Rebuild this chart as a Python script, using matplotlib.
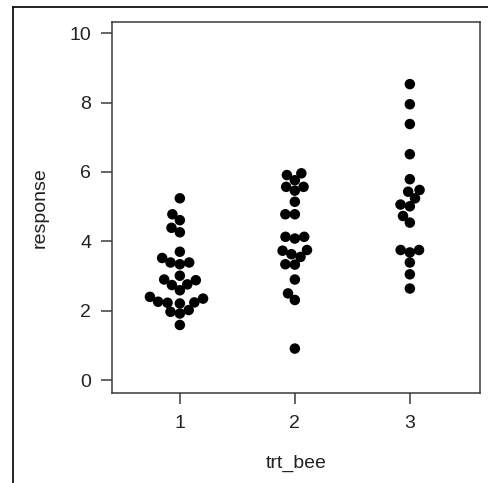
import numpy as np
import matplotlib
matplotlib.use("Agg")
import matplotlib.pyplot as plt
from matplotlib.lines import Line2D

# data
groups = [1, 2, 3]
resp_1 = [5.24, 4.78, 4.61, 4.39, 4.26, 3.70, 3.39, 3.34, 3.39, 3.52, 2.88, 2.90, 3.01,
          2.74, 2.76, 2.59, 2.35, 2.40, 2.24, 2.23, 2.21, 2.26, 2.02, 1.97, 1.92, 1.59]
resp_2 = [5.96, 5.91, 5.76, 5.57, 5.57, 5.46, 5.14, 4.78, 4.78, 4.13, 4.08, 4.13, 3.73,
          3.63, 3.75, 3.55, 3.34, 3.33, 2.90, 2.50, 2.31, 0.91]
resp_3 = [8.53, 7.95, 7.38, 6.51, 5.79, 5.48, 5.43, 5.24, 5.06, 5.01, 4.73, 4.54, 3.75,
          3.68, 3.75, 3.39, 3.05, 2.64]
xticks = [1, 2, 3]
yticks = [0, 2, 4, 6, 8, 10]

plt.rcParams['font.family'] = ['Liberation Sans', 'DejaVu Sans']
W, H, DPI = 488, 483, 100
fig = plt.figure(figsize=(W / DPI, H / DPI), dpi=DPI)
ax = fig.add_axes([112 / W, 1 - 393 / H, (480 - 112) / W, (393 - 22) / H])
ax.set_xlim(0.41, 3.61)
ax.set_ylim(-0.37, 10.32)

dark = '#3a3a3a'
for s in ax.spines.values():
    s.set_color(dark)
    s.set_linewidth(1.1)
ax.tick_params(axis='both', colors=dark, length=8, width=1.1, labelsize=14,
               labelcolor='#222222')
ax.tick_params(axis='x', pad=8)
ax.tick_params(axis='y', pad=7)
ax.set_xticks(xticks)
ax.set_yticks(yticks)
ax.set_xlabel('trt_bee', fontsize=14, color='#222222', labelpad=16)
ax.set_ylabel('response', fontsize=14, color='#222222', labelpad=15)

marker_px = 10.5
gap = 9.5


def swarm(values, center):
    vals = np.asarray(values, float)
    order = np.argsort(vals)
    cx, _ = ax.transData.transform((center, 0))
    pts = ax.transData.transform(np.column_stack([np.full(len(vals), center), vals]))
    placed = []
    xs_px = np.zeros(len(vals))
    for i in order:
        y = pts[i, 1]
        cands = [0.0]
        for (px, py) in placed:
            dy = abs(py - y)
            if dy < gap:
                dx = np.sqrt(gap ** 2 - dy ** 2)
                cands += [px + dx, px - dx]
        cands = sorted(cands, key=lambda c: (abs(c), c))
        for c in cands:
            ok = all((c - px) ** 2 + (y - py) ** 2 >= gap ** 2 - 1e-6 for px, py in placed)
            if ok:
                break
        placed.append((c, y))
        xs_px[i] = cx + c
    inv = ax.transData.inverted()
    return inv.transform(np.column_stack([xs_px, pts[:, 1]]))[:, 0]


ms = (marker_px * 72 / DPI) ** 2
for g, vals in zip(groups, [resp_1, resp_2, resp_3]):
    xs = swarm(vals, g)
    ax.scatter(xs, vals, s=ms, color='black', edgecolors='none', zorder=3)

# outer frame
fig.add_artist(Line2D([13 / W, 13 / W], [0, 1 - 7 / H], transform=fig.transFigure,
                      color='#111111', linewidth=1.3))
fig.add_artist(Line2D([13 / W, 1], [1 - 7 / H, 1 - 7 / H], transform=fig.transFigure,
                      color='#111111', linewidth=1.3))

fig.savefig('out.png', dpi=DPI)
